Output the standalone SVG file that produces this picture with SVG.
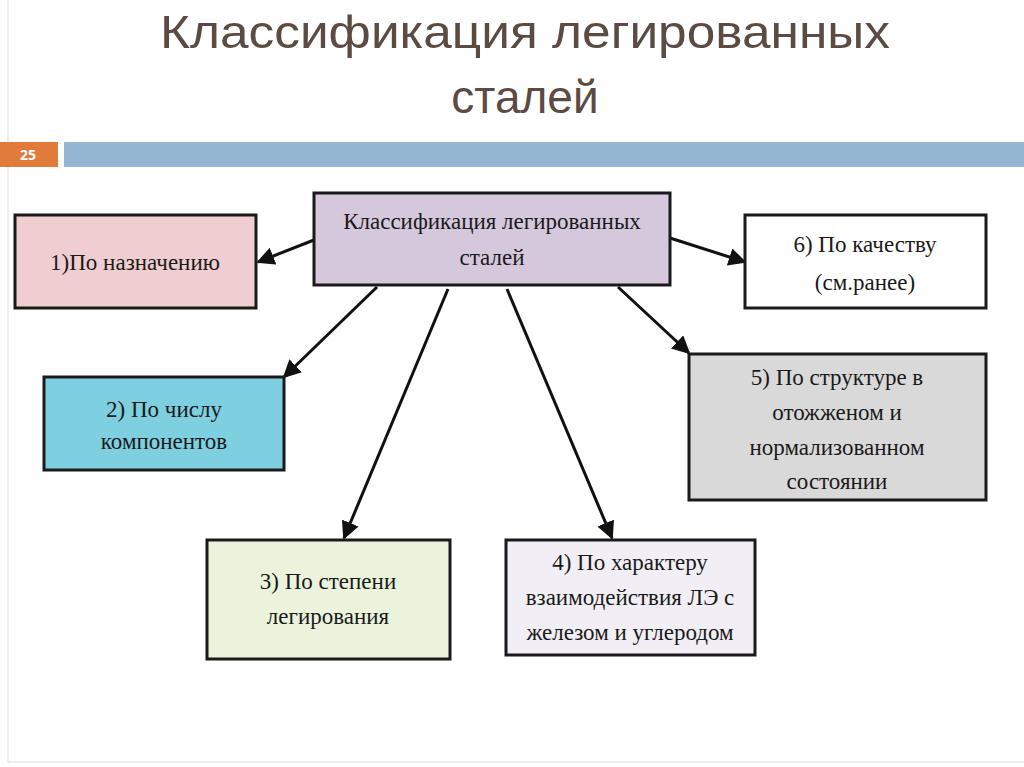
<svg xmlns="http://www.w3.org/2000/svg" width="1024" height="767" viewBox="0 0 1024 767">
<style>
.t{font-family:"Liberation Serif",serif;font-size:23px;fill:#1a1a1a;text-anchor:middle}
.b{stroke:#1a1a1a;stroke-width:3}
.c{stroke:#111;stroke-width:3;fill:none;marker-end:url(#a)}
</style>
<defs><marker id="a" viewBox="0 0 10 10" refX="9" refY="5" markerWidth="6" markerHeight="6" orient="auto" markerUnits="strokeWidth"><path d="M0,0L10,5L0,10z" fill="#111"/></marker></defs>
<rect width="1024" height="767" fill="#fff"/>
<line x1="8" y1="0" x2="8" y2="762" stroke="#ddd"/>
<line x1="8" y1="762" x2="1024" y2="762" stroke="#ddd"/>
<text x="525" y="48" font-family="Liberation Sans,sans-serif" font-size="46" fill="#5b4b43" text-anchor="middle" textLength="730" lengthAdjust="spacingAndGlyphs">Классификация легированных</text>
<text x="525" y="113" font-family="Liberation Sans,sans-serif" font-size="46" fill="#5b4b43" text-anchor="middle">сталей</text>
<rect x="0" y="142" width="58" height="25" fill="#e07b39"/>
<text x="28" y="160" font-family="Open Sans,sans-serif" font-size="14" font-weight="bold" fill="#fff" text-anchor="middle">25</text>
<rect x="64" y="142" width="960" height="25" fill="#94b6d2"/>
<g id="connectors">
<line class="c" x1="314" y1="240" x2="258" y2="262"/>
<line class="c" x1="377" y1="287" x2="284" y2="377"/>
<line class="c" x1="448" y1="289" x2="344" y2="538"/>
<line class="c" x1="507" y1="289" x2="612" y2="538"/>
<line class="c" x1="618" y1="287" x2="689" y2="353"/>
<line class="c" x1="670" y1="238" x2="745" y2="262"/>
</g>
<g id="center"><rect class="b" x="314" y="193" width="356" height="92" fill="#d5c8dc"/><text class="t" x="492" y="229">Классификация легированных</text><text class="t" x="492" y="265">сталей</text></g>
<g id="n1"><rect class="b" x="15" y="215" width="241" height="93" fill="#efcdd0"/><text class="t" x="135" y="270">1)По назначению</text></g>
<g id="n6"><rect class="b" x="745" y="215" width="241" height="93" fill="#fff"/><text class="t" x="865" y="252">6) По качеству</text><text class="t" x="865" y="290">(см.ранее)</text></g>
<g id="n2"><rect class="b" x="44" y="377" width="240" height="93" fill="#7ecfe0"/><text class="t" x="164" y="417">2) По числу</text><text class="t" x="164" y="449">компонентов</text></g>
<g id="n5"><rect class="b" x="689" y="354" width="297" height="146" fill="#d9d9d9"/><text class="t" x="837" y="385">5) По структуре в</text><text class="t" x="837" y="420">отожженом и</text><text class="t" x="837" y="455">нормализованном</text><text class="t" x="837" y="489">состоянии</text></g>
<g id="n3"><rect class="b" x="207" y="540" width="243" height="119" fill="#ebf3dc"/><text class="t" x="328" y="589">3) По степени</text><text class="t" x="328" y="624">легирования</text></g>
<g id="n4"><rect class="b" x="506" y="540" width="249" height="115" fill="#f2eef5"/><text class="t" x="630" y="570">4) По характеру</text><text class="t" x="630" y="605">взаимодействия ЛЭ с</text><text class="t" x="630" y="640">железом и углеродом</text></g>
</svg>
